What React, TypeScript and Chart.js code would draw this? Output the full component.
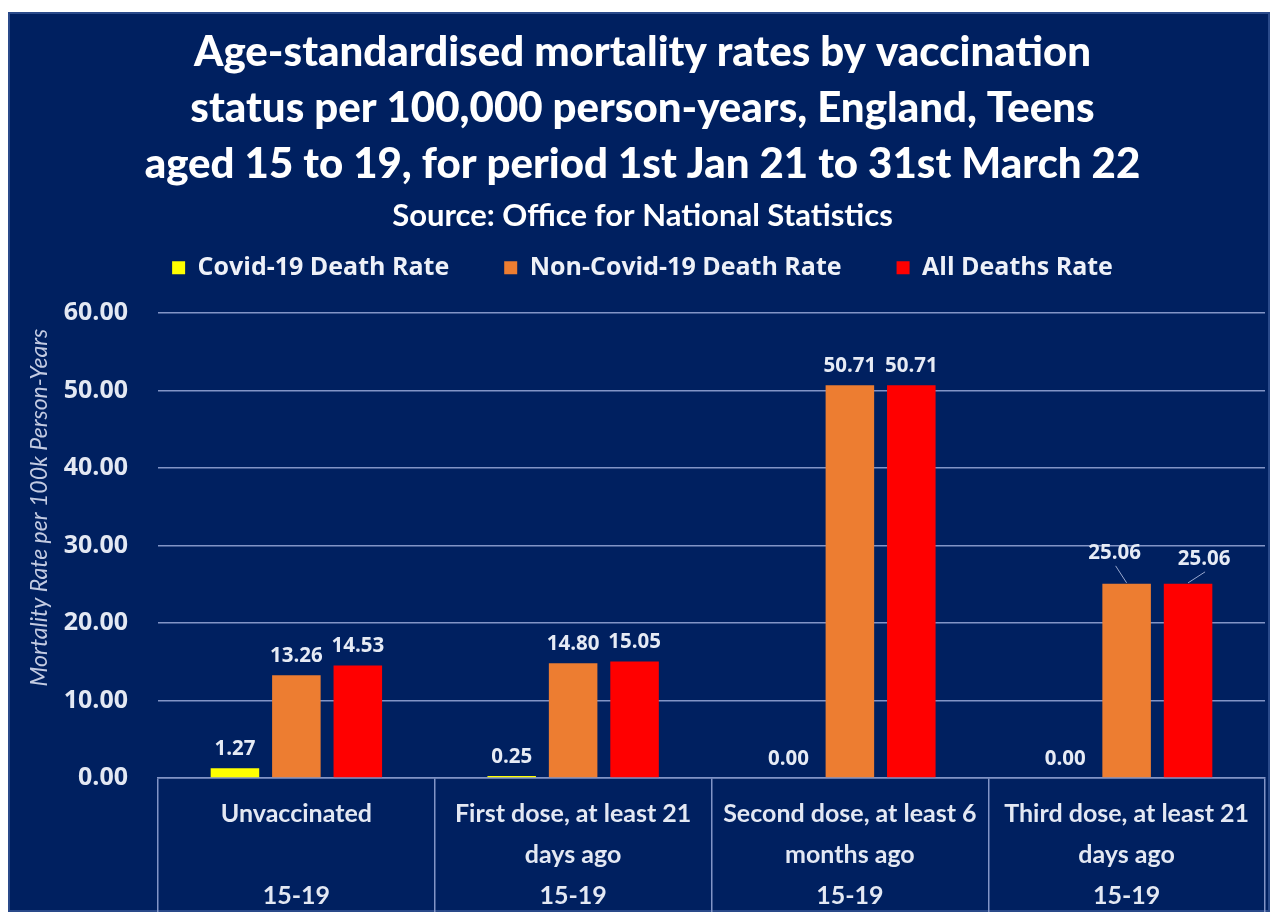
import React, { useEffect, useRef } from "react";
import { Chart, registerables } from "chart.js";

Chart.register(...registerables);

// ---------- data ----------
const titleLines = [
  "Age-standardised mortality rates by vaccination",
  "status per 100,000 person-years, England, Teens",
  "aged 15 to 19, for period 1st Jan 21 to 31st March 22",
];
const subtitleText = "Source: Office for National Statistics";
const yAxisTitle = "Mortality Rate per 100k Person-Years";

const categories: string[][] = [
  ["Unvaccinated"],
  ["First dose, at least 21", "days ago"],
  ["Second dose, at least 6", "months ago"],
  ["Third dose, at least 21", "days ago"],
];
const ageGroups = ["15-19", "15-19", "15-19", "15-19"];

const seriesNames = ["Covid-19 Death Rate", "Non-Covid-19 Death Rate", "All Deaths Rate"];
const covidRate = [1.27, 0.25, 0.0, 0.0];
const nonCovidRate = [13.26, 14.8, 50.71, 25.06];
const allDeathsRate = [14.53, 15.05, 50.71, 25.06];

const yMin = 0;
const yMax = 60;
const yStep = 10;

// ---------- styles ----------
const seriesColors = ["#ffff00", "#ed7d31", "#ff0000"];
const bgColor = "#002060";
const gridColor = "#8294c6";
const tickColor = "#e3e8f3";
const labelColor = "#e6ebf5";

// callout offsets for labels with leader lines: key "dataset-index" -> [dx, dy]
const calloutOffsets: Record<string, [number, number]> = {
  "1-3": [-12, -31],
  "2-3": [16, -25],
};

const valueLabelPlugin = {
  id: "valueLabels",
  afterDatasetsDraw(chart: any) {
    const ctx = chart.ctx;
    ctx.save();
    ctx.font = "bold 20.5px 'Open Sans'";
    ctx.textAlign = "center";
    ctx.textBaseline = "middle";
    chart.data.datasets.forEach((ds: any, di: number) => {
      const meta = chart.getDatasetMeta(di);
      meta.data.forEach((bar: any, i: number) => {
        const v = Number(ds.data[i]);
        const off = calloutOffsets[`${di}-${i}`];
        let x = bar.x;
        let y = bar.y - 19;
        if (off) {
          x = bar.x + off[0];
          y = bar.y + off[1];
          ctx.strokeStyle = "#9aa9cf";
          ctx.lineWidth = 1;
          ctx.beginPath();
          ctx.moveTo(bar.x, bar.y - 1);
          ctx.lineTo(x + 1, y + 13);
          ctx.stroke();
        }
        ctx.fillStyle = labelColor;
        ctx.fillText(v.toFixed(2), x, y);
      });
    });
    ctx.restore();
  },
};

const yTitlePlugin = {
  id: "yTitle",
  afterDraw(chart: any) {
    const ctx = chart.ctx;
    const area = chart.chartArea;
    const cy = (area.top + area.bottom) / 2 - 38;
    ctx.save();
    ctx.translate(39, cy);
    ctx.rotate(-Math.PI / 2);
    ctx.font = "italic 23px Lato";
    ctx.fillStyle = "#c3cbe2";
    ctx.textAlign = "center";
    ctx.textBaseline = "alphabetic";
    ctx.fillText(yAxisTitle, 0, 0);
    ctx.restore();
  },
};

export default function App() {
  const canvasRef = useRef<HTMLCanvasElement | null>(null);

  useEffect(() => {
    if (!canvasRef.current) return;
    const labels = categories.map((c, i) => [c[0], c[1] ?? "", ageGroups[i]]);
    const chart = new Chart(canvasRef.current, {
      type: "bar",
      data: {
        labels,
        datasets: [
          { label: seriesNames[0], data: covidRate, backgroundColor: seriesColors[0], borderWidth: 0 },
          { label: seriesNames[1], data: nonCovidRate, backgroundColor: seriesColors[1], borderWidth: 0 },
          { label: seriesNames[2], data: allDeathsRate, backgroundColor: seriesColors[2], borderWidth: 0 },
        ],
      },
      options: {
        responsive: false,
        animation: false,
        categoryPercentage: 0.666,
        barPercentage: 0.79,
        layout: { padding: { left: 12, right: 5, top: 0, bottom: 0 } },
        plugins: {
          title: {
            display: true,
            text: titleLines,
            color: "#ffffff",
            font: { family: "Lato", weight: 900, size: 42, lineHeight: 56 / 42 },
            padding: { top: 12, bottom: 0 },
          },
          subtitle: {
            display: true,
            text: subtitleText,
            color: "#ffffff",
            font: { family: "Lato", weight: "bold", size: 31, lineHeight: 1.2 },
            padding: { top: 5, bottom: -34 },
          },
          legend: {
            display: true,
            position: "top",
            labels: {
              color: "#eef1f8",
              font: { family: "'Open Sans'", weight: "bold", size: 25 },
              boxWidth: 13,
              boxHeight: 13,
              padding: 55,
            },
          },
          tooltip: { enabled: false },
        },
        scales: {
          x: {
            type: "category",
            offset: true,
            grid: {
              display: true,
              offset: true,
              drawOnChartArea: false,
              drawTicks: true,
              tickLength: 134,
              color: gridColor,
              lineWidth: 1.5,
            },
            border: { display: true, color: gridColor, width: 1.5 },
            ticks: {
              color: tickColor,
              font: { family: "Lato", weight: "bold", size: 25, lineHeight: 41 / 25 },
              padding: -119,
              maxRotation: 0,
              minRotation: 0,
              autoSkip: false,
            },
            afterFit: (s: any) => {
              s.height = 134;
            },
          },
          xTop: {
            type: "category",
            position: "top",
            display: true,
            grid: { display: false },
            border: { display: false },
            ticks: { display: false },
            afterFit: (s: any) => {
              s.height = 23;
            },
          },
          y: {
            min: yMin,
            max: yMax,
            ticks: {
              stepSize: yStep,
              callback: (v: any) => Number(v).toFixed(2),
              color: tickColor,
              font: { family: "'Open Sans'", weight: "bold", size: 25 },
              padding: 30,
            },
            grid: { color: gridColor, lineWidth: 1.5, drawTicks: false, tickLength: 0 },
            border: { display: false },
            afterFit: (s: any) => {
              s.width = 138;
            },
          },
        },
      } as any,
      plugins: [valueLabelPlugin, yTitlePlugin],
    });
    return () => chart.destroy();
  }, []);

  return (
    <div
      style={{
        position: "fixed",
        left: 8,
        top: 12,
        width: 1262,
        height: 900,
        background: bgColor,
        boxShadow: "inset 0 0 0 2px #2a4a8a",
      }}
    >
      <canvas ref={canvasRef} width={1262} height={900} style={{ display: "block", width: 1262, height: 900 }} />
    </div>
  );
}
